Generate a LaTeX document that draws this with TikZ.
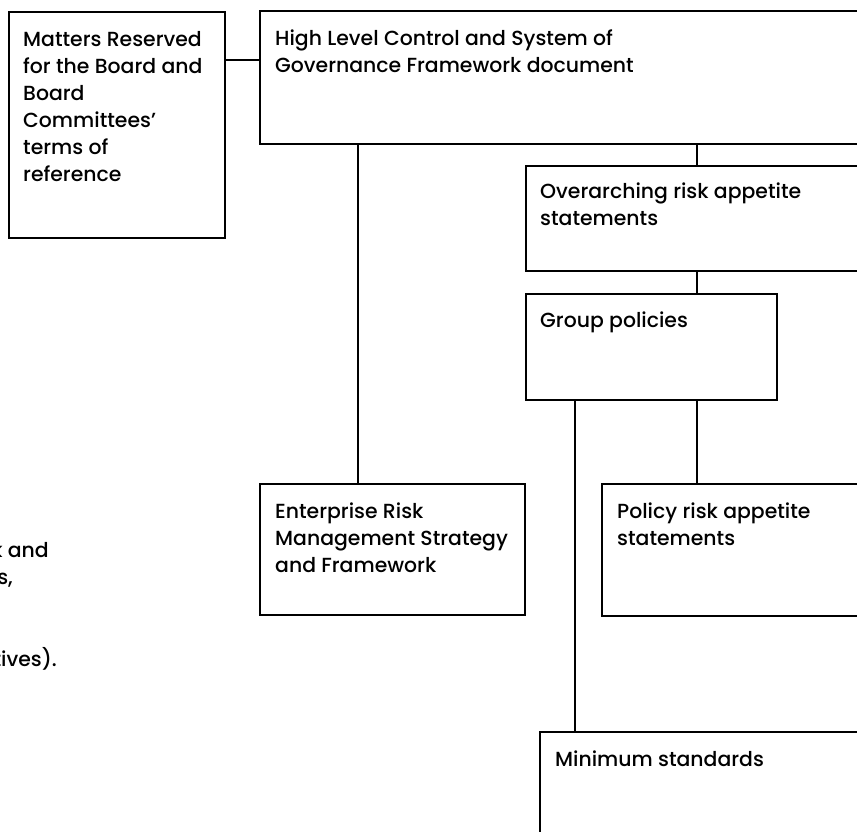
\documentclass[tikz,border=0pt]{standalone}
\usepackage{fontspec}
\setmainfont{Poppins Medium}
\newcommand{\blk}[1]{\begin{tabular}[t]{@{}l@{}}#1\end{tabular}}
\tikzset{
  boxst/.style={draw, line width=2pt, anchor=north west, inner sep=0pt},
  txt/.style={anchor=base west, inner sep=0pt, font=\fontsize{20.4}{27}\selectfont},
  frag/.style={anchor=base east, inner sep=0pt, font=\fontsize{20.4}{27}\selectfont},
  link/.style={line width=2pt}
}
\begin{document}
\begin{tikzpicture}[x=1pt,y=-1pt]
\useasboundingbox (0,0) rectangle (857,832);
\clip (0,0) rectangle (857,832);
% boxes
\node[boxst, minimum width=216, minimum height=226] (mr) at (8,11) {};
\node[boxst, minimum width=631, minimum height=133] (hl) at (259,10) {};
\node[boxst, minimum width=365, minimum height=105] (ov) at (525,165) {};
\node[boxst, minimum width=251, minimum height=106] (gp) at (525,293) {};
\node[boxst, minimum width=265, minimum height=131] (er) at (259,483) {};
\node[boxst, minimum width=289, minimum height=132] (pr) at (601,483) {};
\node[boxst, minimum width=351, minimum height=169] (ms) at (539,731) {};
% texts
\node[txt] (tmr) at (23,47) {\blk{Matters Reserved\\for the Board and\\Board\\Committees'\\terms of\\reference}};
\node[txt] (thl) at (275,46) {\blk{High Level Control and System of\\Governance Framework document}};
\node[txt] (tov) at (540,198) {\blk{Overarching risk appetite\\statements}};
\node[txt] (tgp) at (540,327) {Group policies};
\node[txt] (ter) at (275,518) {\blk{Enterprise Risk\\Management Strategy\\and Framework}};
\node[txt] (tpr) at (617,518) {\blk{Policy risk appetite\\statements}};
\node[txt] (tms) at (555,766) {Minimum standards};
% fragments at left edge
\node[frag] (f1) at (49,557) {k and};
\node[frag] (f2) at (13,584) {s,};
\node[frag] (f3) at (57,666) {tives).};
% connector guides
\coordinate (yab) at (0,60);
\coordinate (xe) at (358,0);
\coordinate (xr) at (697,0);
\coordinate (xm) at (575,0);
% connectors
\draw[link] (mr.east |- yab) -- (hl.west |- yab);
\draw[link] (hl.south -| xe) -- (er.north -| xe);
\draw[link] (hl.south -| xr) -- (ov.north -| xr);
\draw[link] (ov.south -| xr) -- (gp.north -| xr);
\draw[link] (gp.south -| xr) -- (pr.north -| xr);
\draw[link] (gp.south -| xm) -- (ms.north -| xm);
\end{tikzpicture}
\end{document}
